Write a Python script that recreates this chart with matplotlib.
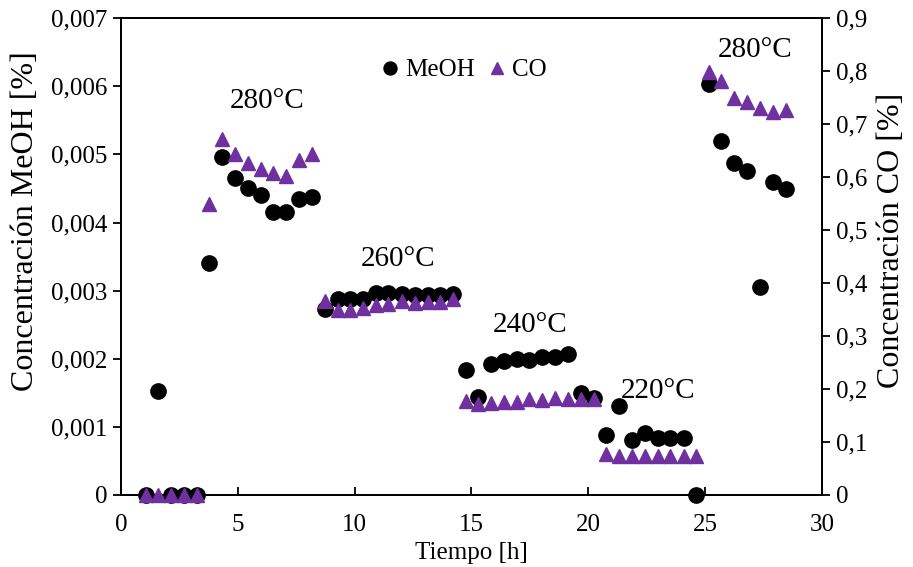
import matplotlib.pyplot as plt

plt.rcParams['font.family'] = ['Liberation Serif', 'DejaVu Serif']

# tiempo [h]
tiempo = [1.07, 1.58, 2.14, 2.70, 3.25, 3.78, 4.33, 4.88, 5.42, 5.98,
          6.52, 7.06, 7.62, 8.16, 8.73, 9.27, 9.80, 10.34, 10.91, 11.44,
          12.01, 12.58, 13.12, 13.65, 14.19, 14.75, 15.29, 15.83, 16.39, 16.93,
          17.47, 18.03, 18.57, 19.14, 19.68, 20.24, 20.77, 21.31, 21.85, 22.42,
          22.97, 23.49, 24.10, 24.63, 25.16, 25.70, 26.25, 26.80, 27.34, 27.91,
          28.46]

meoh = [0, 0.00153, 0, 0, 0, 0.00340, 0.00496, 0.00466, 0.00450, 0.00440,
        0.00415, 0.00415, 0.00435, 0.00438, 0.00273, 0.00287, 0.00288, 0.00287, 0.00296, 0.00296,
        0.00295, 0.00294, 0.00293, 0.00293, 0.00295, 0.00184, 0.00144, 0.00193, 0.00197, 0.00200,
        0.00198, 0.00202, 0.00203, 0.00207, 0.00149, 0.00143, 0.00088, 0.00131, 0.00081, 0.00091,
        0.00083, 0.00083, 0.00083, 0.0, 0.00603, 0.00520, 0.00488, 0.00475, 0.00306, 0.00460,
        0.00449]

co = [0, 0, 0, 0, 0, 0.550, 0.671, 0.643, 0.626, 0.616,
      0.608, 0.602, 0.632, 0.643, 0.367, 0.349, 0.350, 0.352, 0.358, 0.360,
      0.366, 0.363, 0.365, 0.365, 0.370, 0.177, 0.171, 0.173, 0.175, 0.176,
      0.181, 0.179, 0.184, 0.181, 0.182, 0.182, 0.078, 0.074, 0.074, 0.074,
      0.074, 0.074, 0.074, 0.074, 0.799, 0.781, 0.750, 0.742, 0.731, 0.723,
      0.726]

x_ticks = [0, 5, 10, 15, 20, 25, 30]
meoh_ticks = [0, 0.001, 0.002, 0.003, 0.004, 0.005, 0.006, 0.007]
meoh_labels = ["0", "0,001", "0,002", "0,003", "0,004", "0,005", "0,006", "0,007"]
co_ticks = [0, 0.1, 0.2, 0.3, 0.4, 0.5, 0.6, 0.7, 0.8, 0.9]
co_labels = ["0", "0,1", "0,2", "0,3", "0,4", "0,5", "0,6", "0,7", "0,8", "0,9"]

etiquetas = ["280°C", "260°C", "240°C", "220°C", "280°C"]
etiq_x = [6.25, 11.85, 17.5, 22.97, 27.13]
etiq_y = [0.00578, 0.003463, 0.002495, 0.001526, 0.00653]

morado = "#7030A0"

fig = plt.figure(figsize=(9.13, 5.67), dpi=100)
ax = fig.add_axes([0.1325, 0.127, 0.7678, 0.841])
ax2 = ax.twinx()

ax.plot(tiempo, meoh, "o", color="black", markersize=11, label="MeOH", clip_on=False, zorder=3)
ax2.plot(tiempo, co, "^", color=morado, markersize=10, label="CO", clip_on=False, zorder=3)

ax.set_xlim(0, 30)
ax.set_ylim(0, 0.007)
ax2.set_ylim(0, 0.9)

ax.set_xticks(x_ticks)
ax.set_yticks(meoh_ticks)
ax.set_yticklabels(meoh_labels)
ax2.set_yticks(co_ticks)
ax2.set_yticklabels(co_labels)

for a in (ax, ax2):
    for s in a.spines.values():
        s.set_linewidth(1.3)
ax.tick_params(axis="x", direction="in", length=6, width=1.3, labelsize=18, pad=14)
ax.tick_params(axis="y", direction="out", length=6, width=1.3, labelsize=18, pad=4)
ax2.tick_params(axis="y", direction="out", length=6, width=1.3, labelsize=18, pad=4)

ax.set_xlabel("Tiempo [h]", fontsize=18, labelpad=4)
ax.set_ylabel("Concentración MeOH [%]", fontsize=23)
ax2.set_ylabel("Concentración CO [%]", fontsize=23)
ax.yaxis.set_label_coords(-0.116, 0.575)
ax2.yaxis.set_label_coords(1.078, 0.535)

for t, xx, yy in zip(etiquetas, etiq_x, etiq_y):
    ax.text(xx, yy, t, fontsize=21, ha="center", va="center")

h1, l1 = ax.get_legend_handles_labels()
h2, l2 = ax2.get_legend_handles_labels()
ax2.legend(h1 + h2, l1 + l2, loc="center", bbox_to_anchor=(0.49, 0.891), ncol=2,
           frameon=False, fontsize=18, markerscale=0.85, handlelength=0.6,
           handletextpad=0.3, columnspacing=0.6)

fig.savefig("out.png", dpi=100)
